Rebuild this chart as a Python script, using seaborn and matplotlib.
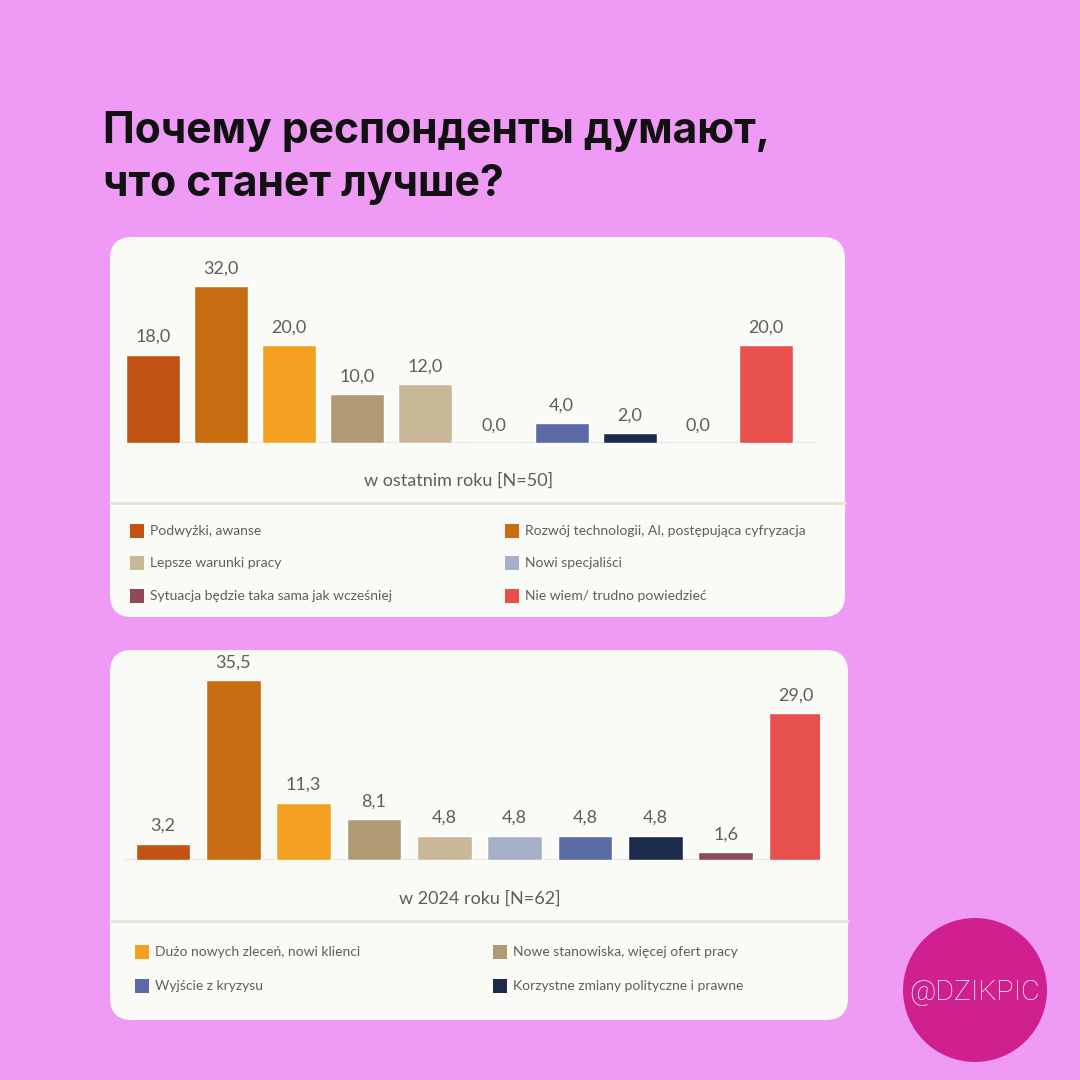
import matplotlib
matplotlib.use("Agg")
import matplotlib.pyplot as plt
import seaborn as sns
import pandas as pd
from matplotlib.patches import FancyBboxPatch, Rectangle, Circle

# Data
categories = [
    "Podwyżki, awanse",
    "Rozwój technologii, AI, postępująca cyfryzacja",
    "Dużo nowych zleceń, nowi klienci",
    "Nowe stanowiska, więcej ofert pracy",
    "Lepsze warunki pracy",
    "Nowi specjaliści",
    "Wyjście z kryzysu",
    "Korzystne zmiany polityczne i prawne",
    "Sytuacja będzie taka sama jak wcześniej",
    "Nie wiem/ trudno powiedzieć",
]
values_last_year = [18.0, 32.0, 20.0, 10.0, 12.0, 0.0, 4.0, 2.0, 0.0, 20.0]
values_2024 = [3.2, 35.5, 11.3, 8.1, 4.8, 4.8, 4.8, 4.8, 1.6, 29.0]
colors = ["#C25115", "#C96D12", "#F3A022", "#B09A76", "#C9B897",
          "#A7AFC6", "#5B6AA5", "#1A2B4C", "#8E4A55", "#E8504D"]
palette = dict(zip(categories, colors))

title = "Почему респонденты думают,\nчто станет лучше?"
label_last = "w ostatnim roku [N=50]"
label_2024 = "w 2024 roku [N=62]"
legend_top = [0, 1, 4, 5, 8, 9]
legend_bottom = [2, 3, 6, 7]

BG = "#EF9BF6"
CARD = "#FAFAF7"
TXT = "#5E5E5E"

sns.set_theme(style="white")
plt.rcParams["font.family"] = ["Lato", "DejaVu Sans"]

fig = plt.figure(figsize=(10.8, 10.8), dpi=100)
fig.patch.set_facecolor(BG)

# background axes in pixel coordinates
bg = fig.add_axes([0, 0, 1, 1])
bg.set_xlim(0, 1080)
bg.set_ylim(1080, 0)
bg.axis("off")

bg.text(103, 158, title, fontsize=30.7, fontweight="bold", color="#111111",
        family=["Inter", "Roboto", "DejaVu Sans"], va="center", ha="left",
        linespacing=1.38)

# cards
for (x0, y0, x1, y1) in [(110, 237, 845, 617), (110, 650, 848, 1020)]:
    bg.add_patch(FancyBboxPatch((x0, y0), x1 - x0, y1 - y0,
                                boxstyle="round,pad=0,rounding_size=22",
                                facecolor=CARD, edgecolor="none"))
bg.plot([110, 845], [503, 503], color="#E9E3D3", lw=2)
bg.plot([110, 848], [921, 921], color="#E9E3D3", lw=2)

bg.text(459, 481, label_last, fontsize=13, color=TXT, ha="center", va="center")
bg.text(480, 899, label_2024, fontsize=13, color=TXT, ha="center", va="center")


def draw_legend(items, xs, ys):
    for k, idx in enumerate(items):
        col, row = k % 2, k // 2
        x, y = xs[col], ys[row]
        bg.add_patch(Rectangle((x, y - 7), 14, 14, facecolor=colors[idx], edgecolor="none"))
        bg.text(x + 20, y, categories[idx], fontsize=10, color=TXT, ha="left", va="center")


draw_legend(legend_top, [130, 505], [531, 563, 596])
draw_legend(legend_bottom, [135, 493], [952, 986])

# badge
bg.add_patch(Circle((975, 990), 72, facecolor="#D01F8E", edgecolor="none"))
bg.text(975, 992, "@DZIKPIC", fontsize=20.5, color="white", ha="center", va="center",
        fontweight="light", family=["Roboto", "DejaVu Sans"])


def px_axes(left, right, top, bottom):
    return fig.add_axes([left / 1080, 1 - bottom / 1080,
                         (right - left) / 1080, (bottom - top) / 1080])


def bar_panel(ax, values, xlim, ylim, width):
    df = pd.DataFrame({"cat": categories, "val": values})
    sns.barplot(data=df, x="cat", y="val", hue="cat", palette=palette,
                order=categories, hue_order=categories, width=width,
                legend=False, ax=ax, saturation=1)
    for c in ax.containers:
        ax.bar_label(c, fmt=lambda v: f"{v:.1f}".replace(".", ","),
                     padding=7, fontsize=13, color=TXT)
    ax.axhline(0, color="#E4E4E4", lw=1.5, zorder=0)
    ax.set_xlim(*xlim)
    ax.set_ylim(*ylim)
    ax.set_facecolor("none")
    ax.set_xlabel("")
    ax.set_ylabel("")
    ax.set_xticks([])
    ax.set_yticks([])
    for s in ax.spines.values():
        s.set_visible(False)


ax1 = px_axes(125, 815, 260, 443)
bar_panel(ax1, values_last_year, (-0.41, 9.72), (0, (443 - 260) / 4.9), 0.79)

ax2 = px_axes(125, 820, 665, 860)
bar_panel(ax2, values_2024, (-0.54, 9.34), (0, (860 - 665) / 5.07), 0.78)

fig.savefig("out.png", dpi=100, facecolor=BG)
